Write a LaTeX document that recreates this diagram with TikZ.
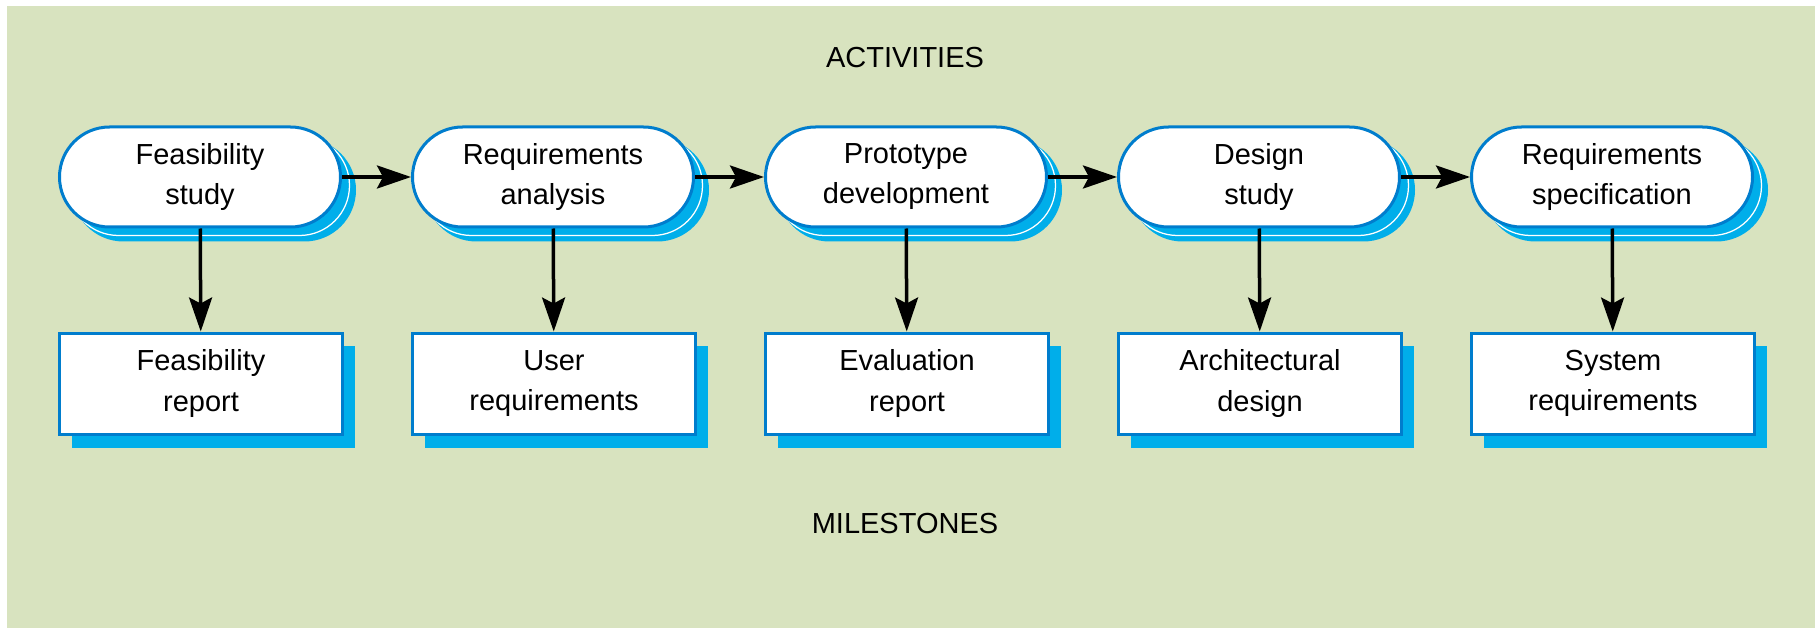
\documentclass[tikz,border=0pt]{standalone}
\usepackage{fontspec}
\setmainfont{Liberation Sans}
\usetikzlibrary{arrows.meta,shadows}

\definecolor{bggreen}{RGB}{216,227,191}
\definecolor{edgeblue}{RGB}{0,125,205}
\definecolor{shadecyan}{RGB}{0,174,234}

\begin{document}
\begin{tikzpicture}[
    font=\fontsize{16.5}{22.8}\selectfont,
    activity/.style={draw=edgeblue, line width=0.06cm, fill=white, rounded corners=1cm,
      minimum width=5.62cm, minimum height=2cm, align=center, inner sep=0pt,
      copy shadow={shadow xshift=0.28cm, shadow yshift=-0.26cm, fill=shadecyan, draw=shadecyan},
      copy shadow={shadow xshift=0.18cm, shadow yshift=-0.17cm, fill=shadecyan, draw=white, line width=0.025cm}},
    milestone/.style={draw=edgeblue, line width=0.06cm, fill=white,
      minimum width=5.65cm, minimum height=2.02cm, align=center, inner sep=0pt,
      copy shadow={shadow xshift=0.25cm, shadow yshift=-0.26cm, fill=shadecyan, draw=shadecyan, line width=0pt}},
    flow/.style={line width=0.07cm, -{Stealth[length=0.68cm, width=0.46cm, inset=0.12cm]}}
  ]
  \useasboundingbox (0,0) rectangle (36.3,-12.56);
  \fill[bggreen] (0.14,-0.12) rectangle (36.3,-12.56);

  \node (activities) at (18.1,-1.16) {ACTIVITIES};
  \node (milestones) at (18.1,-10.48) {MILESTONES};

  % Activities
  \foreach \txt [count=\i] in {{Feasibility\\study}, {Requirements\\analysis},
      {Prototype\\development}, {Design\\study}, {Requirements\\specification}}
    \node[activity] (act\i) at ({4.0+7.06*(\i-1)},-3.54) {\txt};

  % Milestones
  \foreach \txt [count=\i] in {{Feasibility\\report}, {User\\requirements},
      {Evaluation\\report}, {Architectural\\design}, {System\\requirements}}
    \node[milestone] (ms\i) at ({4.02+7.06*(\i-1)},-7.67) {\txt};

  \foreach \i in {1,...,5}
    \draw[flow] (act\i) -- (ms\i);
  \foreach \i [evaluate=\i as \j using int(\i+1)] in {1,...,4}
    \draw[flow] (act\i) -- (act\j);
\end{tikzpicture}
\end{document}
